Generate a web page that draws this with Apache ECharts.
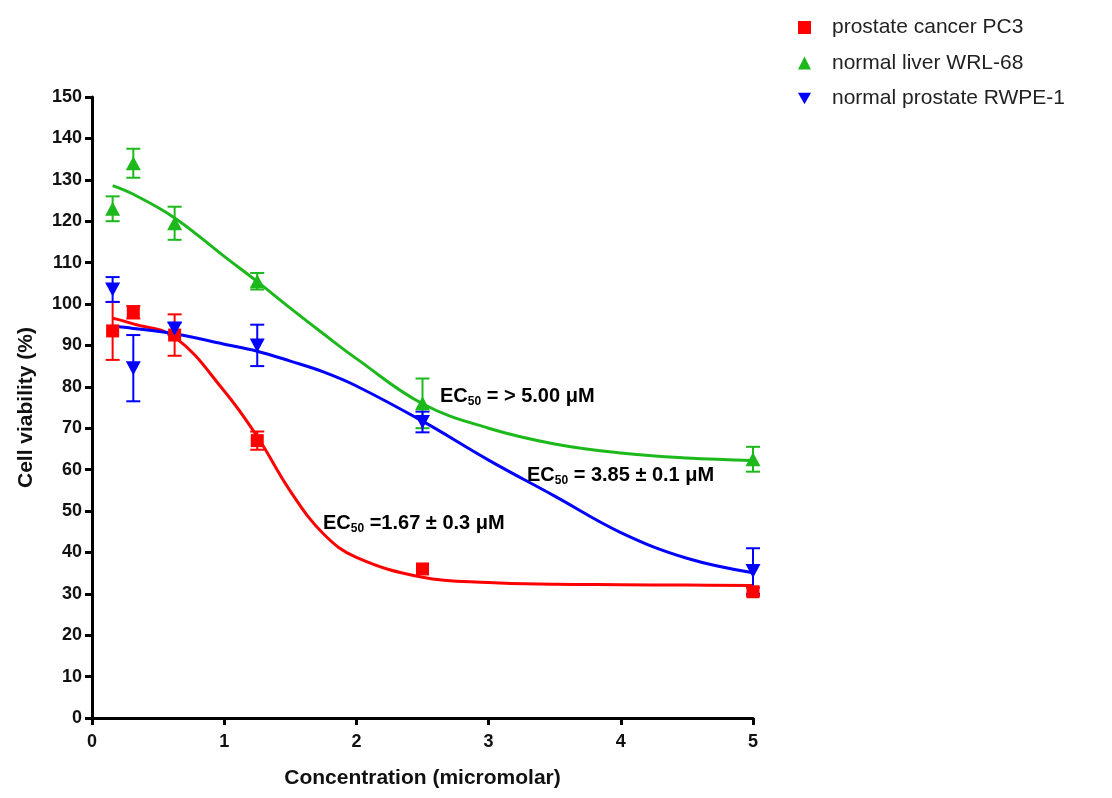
<!DOCTYPE html>
<html>
<head>
<meta charset="utf-8">
<title>Cell viability vs concentration</title>
<script src="https://cdn.jsdelivr.net/npm/echarts@6/dist/echarts.min.js"></script>
<style>
  html, body { margin: 0; padding: 0; background: #fff; }
  #chart { width: 1112px; height: 798px; }
</style>
</head>
<body>
<div id="chart"></div>
<script>
// Concentrations tested (micromolar)
const doses = [0.156, 0.3125, 0.625, 1.25, 2.5, 5];

// Mean cell viability (%) and SEM for each cell line
const pc3Mean  = [93.5, 98, 92.5, 67, 36, 30.5];
const pc3Sem   = [7, 1.5, 5, 2.2, 0, 1];
const wrlMean  = [123, 134, 119.5, 105.5, 76, 62.5];
const wrlSem   = [3, 3.5, 4, 2, 6, 3];
const rwpeMean = [103.5, 84.5, 94, 90, 71.5, 35.5];
const rwpeSem  = [3, 8, 1.5, 5, 2.5, 5.5];

// Fitted dose-response curves, sampled along concentration
const fitX    = [0.156, 0.3125, 0.625, 1, 1.25, 1.5, 1.75, 2, 2.5, 3, 3.5, 4, 4.5, 5];
const pc3Fit  = [96.6, 95.2, 92, 79, 68, 54.8, 44.5, 38.8, 34, 32.7, 32.3, 32.2, 32.1, 32];
const wrlFit  = [128.6, 126.5, 120.8, 111.5, 105.4, 99, 92.8, 86.8, 75.9, 70, 66.2, 64, 62.8, 62.2];
const rwpeFit = [94.6, 94.1, 92.8, 90.3, 88.6, 86.2, 83.6, 80.2, 71.7, 62.3, 53.6, 44.8, 38.6, 35.1];

// Axis ticks
const xTicks = [0, 1, 2, 3, 4, 5];
const yTicks = [0, 10, 20, 30, 40, 50, 60, 70, 80, 90, 100, 110, 120, 130, 140, 150];

const names = ['prostate cancer PC3', 'normal liver WRL-68', 'normal prostate RWPE-1'];
const colors = ['#ff0000', '#1cb81c', '#0000ff'];
const downTriangle = 'path://M0,0L10,0L5,9Z';
const symbols = ['rect', 'triangle', downTriangle];
const FONT = '"Liberation Sans", Arial, Helvetica, sans-serif';

function pairs(xs, ys) { return xs.map((x, i) => [x, ys[i]]); }
function bars(xs, m, s) { return xs.map((x, i) => [x, m[i] - s[i], m[i] + s[i]]); }

function errorSeries(name, data, color) {
  return {
    name: name,
    type: 'custom',
    z: 3,
    data: data,
    encode: { x: 0, y: [1, 2] },
    renderItem: function (params, api) {
      const x = api.value(0);
      const lo = api.value(1), hi = api.value(2);
      if (hi - lo <= 0) return null;
      const top = api.coord([x, hi]);
      const bot = api.coord([x, lo]);
      const w = 7;
      const st = { stroke: color, lineWidth: 2 };
      return {
        type: 'group',
        children: [
          { type: 'line', shape: { x1: top[0], y1: top[1], x2: bot[0], y2: bot[1] }, style: st },
          { type: 'line', shape: { x1: top[0] - w, y1: top[1], x2: top[0] + w, y2: top[1] }, style: st },
          { type: 'line', shape: { x1: bot[0] - w, y1: bot[1], x2: bot[0] + w, y2: bot[1] }, style: st }
        ]
      };
    }
  };
}

function fitSeries(name, ys, color) {
  return {
    name: name,
    type: 'line',
    data: pairs(fitX, ys),
    smooth: 0.4,
    symbol: 'none',
    z: 2,
    lineStyle: { color: color, width: 3 },
    silent: true
  };
}

function pointSeries(name, ys, color, symbol, size) {
  return {
    name: name,
    type: 'scatter',
    data: pairs(doses, ys),
    symbol: symbol,
    symbolSize: size,
    z: 4,
    itemStyle: { color: color, opacity: 1 }
  };
}

const chart = echarts.init(document.getElementById('chart'), null, { renderer: 'canvas' });

const ecRich = {
  b: { fontFamily: FONT, fontSize: 20, fontWeight: 'bold', color: '#111', lineHeight: 24, verticalAlign: 'middle' },
  s: { fontFamily: FONT, fontSize: 12, fontWeight: 'bold', color: '#111', lineHeight: 24, verticalAlign: 'bottom' }
};

chart.setOption({
  animation: false,
  backgroundColor: '#ffffff',
  textStyle: { fontFamily: FONT },
  grid: { left: 92, right: 359, top: 97, bottom: 80, containLabel: false },
  legend: {
    orient: 'vertical',
    left: 793,
    top: 12,
    itemWidth: 13,
    itemHeight: 13,
    itemGap: 14.5,
    selectedMode: false,
    textStyle: { fontFamily: FONT, fontSize: 21, color: '#222', padding: [0, 0, 0, 16] },
    data: names.map((n, i) => ({ name: n, icon: symbols[i], itemStyle: { color: colors[i] } }))
  },
  xAxis: {
    type: 'value',
    min: xTicks[0],
    max: xTicks[xTicks.length - 1],
    interval: 1,
    name: 'Concentration (micromolar)',
    nameLocation: 'middle',
    nameGap: 50,
    nameTextStyle: { fontFamily: FONT, fontSize: 21, fontWeight: 'bold', color: '#111' },
    splitLine: { show: false },
    axisLine: { show: true, lineStyle: { color: '#000', width: 3 } },
    axisTick: { show: true, length: 7, lineStyle: { color: '#000', width: 3 } },
    axisLabel: { fontFamily: FONT, fontSize: 18, fontWeight: 'bold', color: '#111', margin: 15 }
  },
  yAxis: {
    type: 'value',
    min: yTicks[0],
    max: yTicks[yTicks.length - 1],
    interval: 10,
    name: 'Cell viability (%)',
    nameLocation: 'middle',
    nameGap: 55,
    nameRotate: 90,
    nameTextStyle: { fontFamily: FONT, fontSize: 21, fontWeight: 'bold', color: '#111' },
    splitLine: { show: false },
    axisLine: { show: true, lineStyle: { color: '#000', width: 3 } },
    axisTick: { show: true, length: 7, lineStyle: { color: '#000', width: 3 } },
    axisLabel: { fontFamily: FONT, fontSize: 18, fontWeight: 'bold', color: '#111', margin: 10 }
  },
  series: [
    fitSeries('PC3 fit', pc3Fit, colors[0]),
    fitSeries('WRL-68 fit', wrlFit, colors[1]),
    fitSeries('RWPE-1 fit', rwpeFit, colors[2]),
    errorSeries('PC3 SEM', bars(doses, pc3Mean, pc3Sem), colors[0]),
    errorSeries('WRL-68 SEM', bars(doses, wrlMean, wrlSem), colors[1]),
    errorSeries('RWPE-1 SEM', bars(doses, rwpeMean, rwpeSem), colors[2]),
    pointSeries(names[0], pc3Mean, colors[0], symbols[0], 13),
    pointSeries(names[1], wrlMean, colors[1], symbols[1], [15, 14]),
    pointSeries(names[2], rwpeMean, colors[2], symbols[2], [15, 14])
  ],
  graphic: [
    { type: 'text', left: 440, top: 386, z: 10,
      style: { text: '{b|EC}{s|50}{b| = > 5.00 μM}', rich: ecRich } },
    { type: 'text', left: 527, top: 465, z: 10,
      style: { text: '{b|EC}{s|50}{b| = 3.85 ± 0.1 μM}', rich: ecRich } },
    { type: 'text', left: 323, top: 513, z: 10,
      style: { text: '{b|EC}{s|50}{b| =1.67 ± 0.3 μM}', rich: ecRich } }
  ]
});
</script>
</body>
</html>
